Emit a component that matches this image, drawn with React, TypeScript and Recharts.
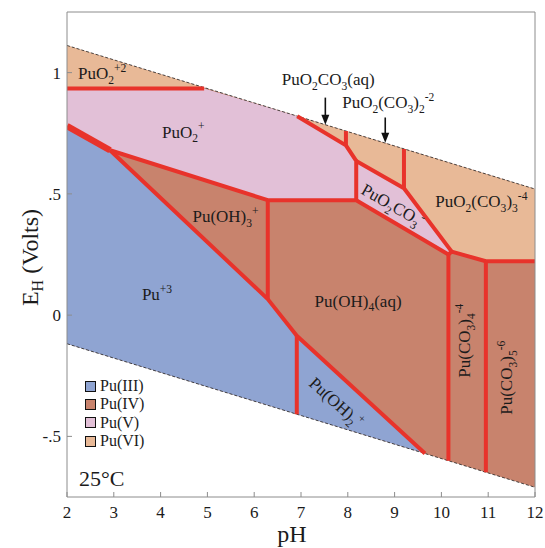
import { Area, ComposedChart, Legend, Line, Scatter, XAxis, YAxis } from "recharts";

const pHTicks = [2, 3, 4, 5, 6, 7, 8, 9, 10, 11, 12];
const eTicks = [-0.5, 0, 0.5, 1];
const eTickLabels = ["-.5", "0", ".5", "1"];

type Band = { pH: number; lo: number; hi: number };
type Pt = { pH: number; E: number };

// fields, painted in this order (Pu(IV) fills the whole water band underneath)
const fieldIV: Band[] = [
  { pH: 2, lo: -0.118, hi: 1.112 },
  { pH: 12, lo: -0.71, hi: 0.52 },
];
const fieldIII: Band[] = [
  { pH: 2, lo: -0.118, hi: 0.78 },
  { pH: 2.92, lo: -0.173, hi: 0.68 },
  { pH: 6.29, lo: -0.372, hi: 0.066 },
  { pH: 6.91, lo: -0.409, hi: -0.085 },
  { pH: 9.65, lo: -0.571, hi: -0.571 },
];
const fieldV: Band[] = [
  { pH: 2, lo: 0.78, hi: 0.935 },
  { pH: 2.92, lo: 0.68, hi: 0.935 },
  { pH: 4.93, lo: 0.557, hi: 0.935 },
  { pH: 6.29, lo: 0.474, hi: 0.857 },
  { pH: 6.92, lo: 0.474, hi: 0.82 },
  { pH: 7.96, lo: 0.474, hi: 0.7 },
  { pH: 8.18, lo: 0.474, hi: 0.636 },
];
const fieldVIleft: Band[] = [
  { pH: 2, lo: 0.935, hi: 1.112 },
  { pH: 4.93, lo: 0.935, hi: 0.938 },
];
const fieldVIright: Band[] = [
  { pH: 6.92, lo: 0.82, hi: 0.82 },
  { pH: 7.96, lo: 0.7, hi: 0.759 },
  { pH: 8.18, lo: 0.636, hi: 0.746 },
  { pH: 9.2, lo: 0.523, hi: 0.685 },
  { pH: 10.22, lo: 0.262, hi: 0.625 },
  { pH: 10.95, lo: 0.222, hi: 0.582 },
  { pH: 12, lo: 0.222, hi: 0.52 },
];
const fieldVcarb: Band[] = [
  { pH: 8.18, lo: 0.474, hi: 0.636 },
  { pH: 9.2, lo: 0.356, hi: 0.523 },
  { pH: 10.15, lo: 0.25, hi: 0.28 },
  { pH: 10.22, lo: 0.262, hi: 0.262 },
];

const waterUpper: Pt[] = [
  { pH: 2, E: 1.112 },
  { pH: 12, E: 0.52 },
];
const waterLower: Pt[] = [
  { pH: 2, E: -0.118 },
  { pH: 12, E: -0.71 },
];

const thickEdge: Pt[] = [
  { pH: 2, E: 0.78 },
  { pH: 2.92, E: 0.68 },
];
const edges: Pt[][] = [
  [
    { pH: 2, E: 0.935 },
    { pH: 4.93, E: 0.935 },
  ],
  [
    { pH: 2.92, E: 0.68 },
    { pH: 6.29, E: 0.066 },
    { pH: 6.91, E: -0.085 },
    { pH: 9.65, E: -0.571 },
  ],
  [
    { pH: 2.92, E: 0.68 },
    { pH: 6.29, E: 0.474 },
    { pH: 8.18, E: 0.474 },
    { pH: 10.15, E: 0.25 },
    { pH: 10.22, E: 0.262 },
    { pH: 10.95, E: 0.222 },
    { pH: 12, E: 0.222 },
  ],
  [
    { pH: 6.29, E: 0.474 },
    { pH: 6.29, E: 0.066 },
  ],
  [
    { pH: 6.91, E: -0.085 },
    { pH: 6.91, E: -0.409 },
  ],
  [
    { pH: 6.92, E: 0.82 },
    { pH: 7.96, E: 0.7 },
    { pH: 8.18, E: 0.636 },
    { pH: 8.18, E: 0.474 },
  ],
  [
    { pH: 7.96, E: 0.759 },
    { pH: 7.96, E: 0.7 },
  ],
  [
    { pH: 8.18, E: 0.636 },
    { pH: 9.2, E: 0.523 },
    { pH: 10.22, E: 0.262 },
  ],
  [
    { pH: 9.2, E: 0.685 },
    { pH: 9.2, E: 0.523 },
  ],
  [
    { pH: 10.15, E: 0.25 },
    { pH: 10.15, E: -0.601 },
  ],
  [
    { pH: 10.95, E: 0.222 },
    { pH: 10.95, E: -0.648 },
  ],
];

const arrowShafts: Pt[][] = [
  [
    { pH: 7.52, E: 0.897 },
    { pH: 7.52, E: 0.8 },
  ],
  [
    { pH: 8.8, E: 0.815 },
    { pH: 8.8, E: 0.725 },
  ],
];
const arrowTips: Pt[] = [
  { pH: 7.52, E: 0.785 },
  { pH: 8.8, E: 0.711 },
];

type Part = [string, "n" | "b" | "p"];
type FieldLabel = { id: string; pH: number; E: number; parts: Part[] };

const fieldLabels: FieldLabel[] = [
  { id: "vi2", pH: 2.235, E: 0.972, parts: [["PuO", "n"], ["2", "b"], ["+2", "p"]] },
  { id: "v", pH: 4.03, E: 0.732, parts: [["PuO", "n"], ["2", "b"], ["+", "p"]] },
  { id: "oh3", pH: 4.68, E: 0.382, parts: [["Pu(OH)", "n"], ["3", "b"], ["+", "p"]] },
  { id: "iii", pH: 3.6, E: 0.063, parts: [["Pu", "n"], ["+3", "p"]] },
  { id: "oh4", pH: 7.29, E: 0.035, parts: [["Pu(OH)", "n"], ["4", "b"], ["(aq)", "n"]] },
  { id: "c1aq", pH: 6.59, E: 0.95, parts: [["PuO", "n"], ["2", "b"], ["CO", "n"], ["3", "b"], ["(aq)", "n"]] },
  {
    id: "c2",
    pH: 7.88,
    E: 0.855,
    parts: [["PuO", "n"], ["2", "b"], ["(CO", "n"], ["3", "b"], [")", "n"], ["2", "b"], ["-2", "p"]],
  },
  {
    id: "c3",
    pH: 9.87,
    E: 0.446,
    parts: [["PuO", "n"], ["2", "b"], ["(CO", "n"], ["3", "b"], [")", "n"], ["3", "b"], ["-4", "p"]],
  },
  { id: "c1", pH: 8.26, E: 0.504, parts: [["PuO", "n"], ["2", "b"], ["CO", "n"], ["3", "b"], ["-", "p"]] },
  { id: "oh2", pH: 7.15, E: -0.287, parts: [["Pu(OH)", "n"], ["2", "b"], ["+", "p"]] },
  { id: "c4", pH: 10.61, E: -0.258, parts: [["Pu(CO", "n"], ["3", "b"], [")", "n"], ["4", "b"], ["-4", "p"]] },
  { id: "c5", pH: 11.51, E: -0.411, parts: [["Pu(CO", "n"], ["3", "b"], [")", "n"], ["5", "b"], ["-6", "p"]] },
  { id: "temp", pH: 2.256, E: -0.706, parts: [["25°C", "n"]] },
];

const legendNames = ["Pu(III)", "Pu(IV)", "Pu(V)", "Pu(VI)"];

const SERIF = "Liberation Serif, Times New Roman, DejaVu Serif, serif";
const RED = "#e8332b";
const FRAME = "#8c8c8c";
const INK = "#1b1b1b";
const fieldColors = ["#8fa4d2", "#c8836d", "#e2c0d7", "#e8b997"];

const labelStyle: Record<string, { rot?: number; size?: number }> = {
  c1: { rot: 30 },
  oh2: { rot: 42 },
  c4: { rot: -90 },
  c5: { rot: -90 },
  temp: { size: 22 },
};

function richText(parts: Part[], size: number) {
  let cur = 0;
  return parts.map(([t, k], i) => {
    const target = k === "b" ? size * 0.28 : k === "p" ? -size * 0.42 : 0;
    const dy = target - cur;
    cur = target;
    return (
      <tspan key={i} dy={dy} style={{ fontSize: k === "n" ? size : size * 0.68 }}>
        {t}
      </tspan>
    );
  });
}

const LabelMark = (props: any) => {
  const { cx, cy, payload } = props;
  const st = labelStyle[payload.id] ?? {};
  const size = st.size ?? 17;
  return (
    <g transform={`translate(${cx},${cy}) rotate(${st.rot ?? 0})`}>
      <text x={0} y={0} style={{ fontFamily: SERIF, fontSize: size }} fill={INK}>
        {richText(payload.parts, size)}
      </text>
    </g>
  );
};

const ArrowHead = (props: any) => {
  const { cx, cy } = props;
  return <path d={`M${cx},${cy} L${cx - 4},${cy - 10} L${cx + 4},${cy - 10} Z`} fill="#111" />;
};

const renderLegend = () => (
  <div style={{ fontFamily: SERIF, fontSize: 16, color: INK }}>
    {legendNames.map((name, i) => (
      <div key={name} style={{ display: "flex", alignItems: "center", height: 18.3 }}>
        <span
          style={{
            display: "inline-block",
            width: 9,
            height: 9,
            border: "1.5px solid #111",
            background: fieldColors[i],
            marginRight: 4,
          }}
        />
        {name}
      </div>
    ))}
  </div>
);

const YTitle = (props: any) => {
  const vb = props.viewBox;
  const x = vb.x + 38;
  const y = vb.y + vb.height / 2 + 3;
  return (
    <text transform={`translate(${x},${y}) rotate(-90)`} textAnchor="middle" style={{ fontFamily: SERIF, fontSize: 24 }} fill={INK}>
      E
      <tspan dy={5} style={{ fontSize: 16 }}>
        H
      </tspan>
      <tspan dy={-5}> (Volts)</tspan>
    </text>
  );
};

const XTitle = (props: any) => {
  const vb = props.viewBox;
  return (
    <text x={vb.x + vb.width / 2 - 9} y={vb.y + 45} textAnchor="middle" style={{ fontFamily: SERIF, fontSize: 24 }} fill={INK}>
      pH
    </text>
  );
};

const band = (d: Band) => [d.lo, d.hi];
const fields: [Band[], string][] = [
  [fieldIV, fieldColors[1]],
  [fieldIII, fieldColors[0]],
  [fieldV, fieldColors[2]],
  [fieldVIleft, fieldColors[3]],
  [fieldVIright, fieldColors[3]],
  [fieldVcarb, fieldColors[2]],
];

export default function App() {
  const tickFont = { fill: INK, fontSize: 17, fontFamily: SERIF, style: { fontFamily: SERIF } };
  return (
    <div style={{ position: "absolute", left: 0, top: 0, background: "#fff", fontFamily: SERIF }}>
      <ComposedChart width={545} height={548} margin={{ top: 11, right: 9, bottom: 0, left: 0 }} style={{ fontFamily: SERIF }}>
        <XAxis
          dataKey="pH"
          type="number"
          domain={[2, 12]}
          ticks={pHTicks}
          interval={0}
          height={51}
          tickSize={-5}
          tickMargin={14}
          stroke={FRAME}
          tick={tickFont}
          allowDataOverflow
          label={<XTitle />}
        />
        <XAxis
          xAxisId="t"
          orientation="top"
          dataKey="pH"
          type="number"
          domain={[2, 12]}
          ticks={pHTicks}
          interval={0}
          height={1}
          tickSize={-5}
          tick={false}
          stroke={FRAME}
          allowDataOverflow
        />
        <YAxis
          type="number"
          domain={[-0.75, 1.25]}
          ticks={eTicks}
          interval={0}
          width={67}
          tickSize={-5}
          tickMargin={11}
          stroke={FRAME}
          tick={tickFont}
          tickFormatter={(v: number) => eTickLabels[eTicks.indexOf(v)] ?? String(v)}
          allowDataOverflow
          label={<YTitle />}
        />
        <YAxis
          yAxisId="r"
          orientation="right"
          type="number"
          domain={[-0.75, 1.25]}
          ticks={eTicks}
          interval={0}
          width={1}
          tickSize={-5}
          tick={false}
          stroke={FRAME}
          allowDataOverflow
        />
        {fields.map(([data, color], i) => (
          <Area
            key={`f${i}`}
            data={data}
            dataKey={band}
            type="linear"
            fill={color}
            fillOpacity={1}
            stroke="none"
            isAnimationActive={false}
            dot={false}
            activeDot={false}
          />
        ))}
        <Line data={waterUpper} dataKey="E" type="linear" stroke="#222" strokeWidth={0.8} strokeDasharray="3 2" dot={false} isAnimationActive={false} />
        <Line data={waterLower} dataKey="E" type="linear" stroke="#222" strokeWidth={0.8} strokeDasharray="3 2" dot={false} isAnimationActive={false} />
        {edges.map((data, i) => (
          <Line
            key={`e${i}`}
            data={data}
            dataKey="E"
            type="linear"
            stroke={RED}
            strokeWidth={4}
            strokeLinejoin="round"
            dot={false}
            isAnimationActive={false}
          />
        ))}
        <Line data={thickEdge} dataKey="E" type="linear" stroke={RED} strokeWidth={6.5} dot={false} isAnimationActive={false} />
        {arrowShafts.map((data, i) => (
          <Line key={`a${i}`} data={data} dataKey="E" type="linear" stroke="#111" strokeWidth={1.6} dot={false} isAnimationActive={false} />
        ))}
        <Scatter data={arrowTips} dataKey="E" shape={<ArrowHead />} isAnimationActive={false} />
        <Scatter data={fieldLabels} dataKey="E" shape={<LabelMark />} isAnimationActive={false} />
        <Legend
          layout="horizontal"
          verticalAlign="middle"
          align="center"
          content={renderLegend}
          wrapperStyle={{ left: 85, top: 377, width: "auto" }}
        />
      </ComposedChart>
    </div>
  );
}
